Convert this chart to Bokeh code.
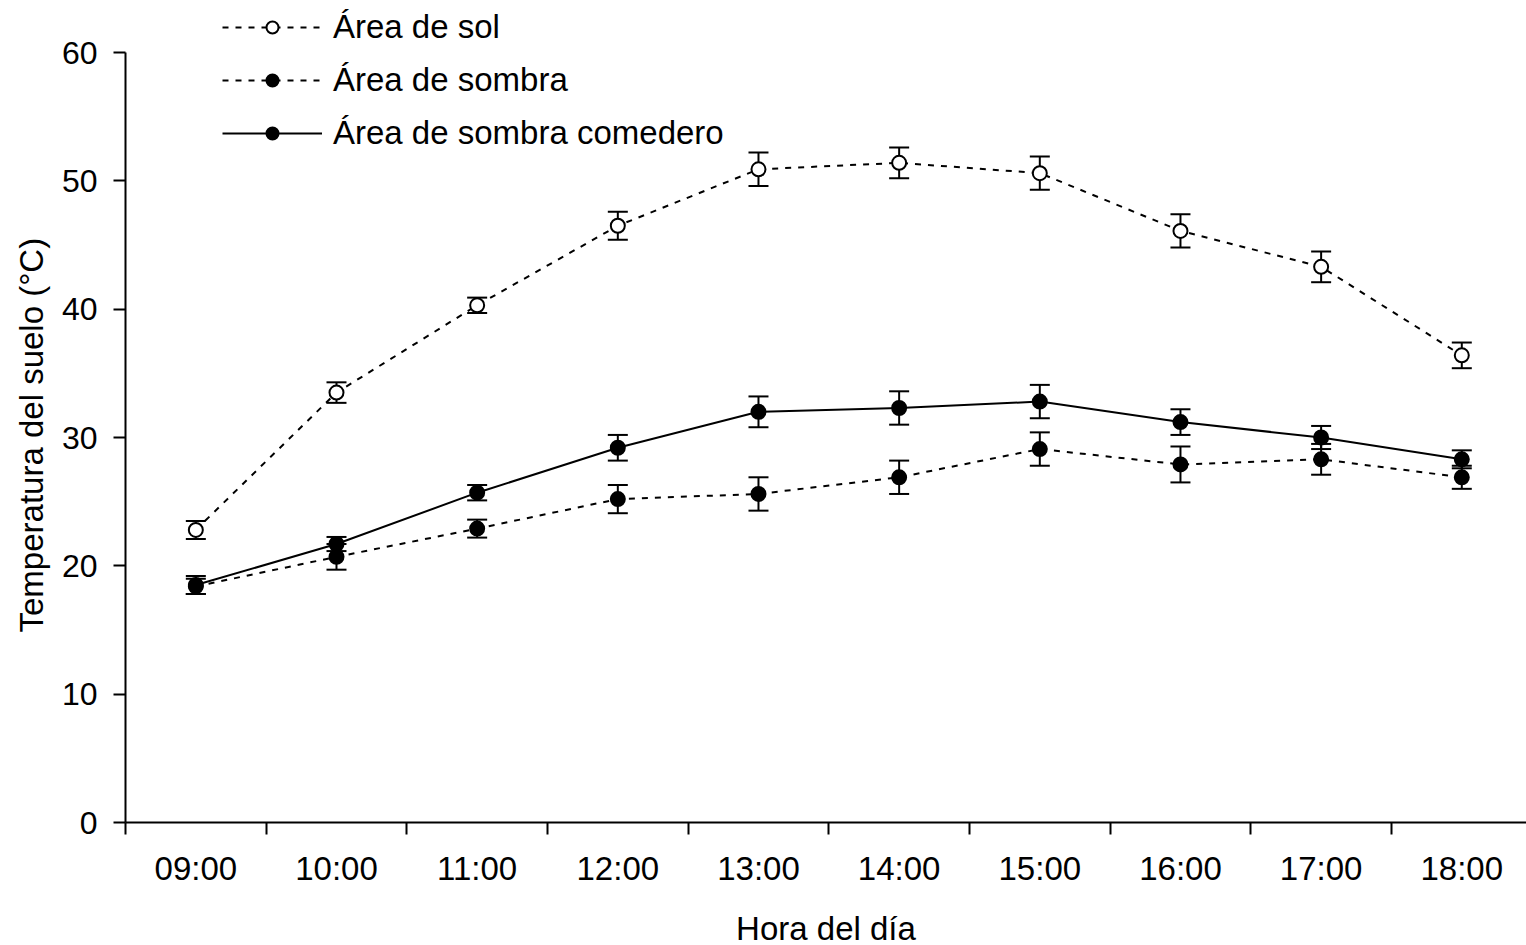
from bokeh.plotting import figure
from bokeh.models import (ColumnDataSource, FixedTicker, Whisker, TeeHead,
                          Legend, LegendItem, Range1d, Title)
from bokeh.embed import file_html
from bokeh.resources import INLINE

hours = ["09:00", "10:00", "11:00", "12:00", "13:00",
         "14:00", "15:00", "16:00", "17:00", "18:00"]
sol = [22.8, 33.5, 40.3, 46.5, 50.9, 51.4, 50.6, 46.1, 43.3, 36.4]
sol_err = [0.7, 0.8, 0.6, 1.1, 1.3, 1.2, 1.3, 1.3, 1.2, 1.0]
sombra = [18.4, 20.7, 22.9, 25.2, 25.6, 26.9, 29.1, 27.9, 28.3, 26.9]
sombra_err = [0.6, 1.0, 0.7, 1.1, 1.3, 1.3, 1.3, 1.4, 1.2, 0.9]
comedero = [18.5, 21.7, 25.7, 29.2, 32.0, 32.3, 32.8, 31.2, 30.0, 28.3]
comedero_err = [0.7, 0.55, 0.6, 1.0, 1.2, 1.3, 1.3, 1.0, 0.9, 0.7]
y_ticks = [0, 10, 20, 30, 40, 50, 60]

FONT = "Liberation Sans"
xpos = [i + 0.5 for i in range(len(hours))]

# frame reaches the top of the page so that the legend (above 60) is not clipped
p = figure(frame_width=1401, frame_height=822, output_backend="svg",
           toolbar_location=None,
           x_range=Range1d(0, 9.96), y_range=Range1d(0, 60 * 822 / 770),
           min_border_left=125, min_border_right=0, min_border_top=0,
           min_border_bottom=123)
p.outline_line_color = None
p.xgrid.visible = False
p.ygrid.visible = False
p.background_fill_color = "white"
p.border_fill_color = "white"

# x axis: tick marks between hours, labels centred on hours
xa = p.xaxis[0]
xa.ticker = FixedTicker(ticks=xpos, minor_ticks=list(range(0, 11)))
xa.major_label_overrides = {x: h for x, h in zip(xpos, hours)}
xa.major_tick_out = 0
xa.major_tick_in = 0
xa.minor_tick_out = 12
xa.minor_tick_in = 0
xa.minor_tick_line_width = 2
xa.minor_tick_line_color = "black"
xa.axis_line_width = 2
xa.axis_line_color = "black"
xa.major_label_standoff = 15
xa.major_label_text_font = FONT
xa.major_label_text_font_size = "33px"
xa.major_label_text_color = "black"
xa.axis_label = "Hora del día"
xa.axis_label_text_font = FONT
xa.axis_label_text_font_size = "33px"
xa.axis_label_text_font_style = "normal"
xa.axis_label_text_color = "black"
xa.axis_label_standoff = 20

ya = p.yaxis[0]
ya.ticker = FixedTicker(ticks=y_ticks, minor_ticks=[])
ya.bounds = (y_ticks[0], y_ticks[-1])
ya.major_tick_out = 12
ya.major_tick_in = 0
ya.major_tick_line_width = 2
ya.major_tick_line_color = "black"
ya.axis_line_width = 2
ya.axis_line_color = "black"
ya.major_label_standoff = 16
ya.major_label_text_font = FONT
ya.major_label_text_font_size = "32px"
ya.major_label_text_color = "black"

# y title placed along the 0-60 span of the axis (not the taller frame)
ytitle = Title(text="Temperatura del suelo (°C)", align="left", offset=190,
               text_font=FONT, text_font_size="33px", text_font_style="normal",
               text_color="black", standoff=18)
p.add_layout(ytitle, "left")

series = [
    ("Área de sol", sol, sol_err, "6 7", "white"),
    ("Área de sombra", sombra, sombra_err, "6 7", "black"),
    ("Área de sombra comedero", comedero, comedero_err, "solid", "black"),
]

built = []
for name, vals, errs, dash, fill in series:
    src = ColumnDataSource(dict(x=xpos, y=vals,
                                lo=[v - e for v, e in zip(vals, errs)],
                                hi=[v + e for v, e in zip(vals, errs)]))
    ln = p.line("x", "y", source=src, line_color="black", line_width=2,
                line_dash=dash)
    w = Whisker(base="x", lower="lo", upper="hi", source=src,
                line_color="black", line_width=2,
                upper_head=TeeHead(size=20, line_width=2, line_color="black"),
                lower_head=TeeHead(size=20, line_width=2, line_color="black"))
    p.add_layout(w)
    built.append((name, ln, src, fill))

items = []
for name, ln, src, fill in built:
    sc = p.scatter("x", "y", source=src, size=14, marker="circle",
                   fill_color=fill, line_color="black", line_width=2)
    items.append(LegendItem(label=name, renderers=[ln, sc]))

legend = Legend(items=items, location=(97, 670), glyph_width=100,
                glyph_height=30, label_height=30, label_standoff=11,
                spacing=15, padding=0, margin=0, border_line_color=None,
                background_fill_alpha=0, label_text_font=FONT,
                label_text_font_size="33px", label_text_color="black")
p.add_layout(legend, "center")

open("out.html", "w").write(file_html(p, INLINE))
